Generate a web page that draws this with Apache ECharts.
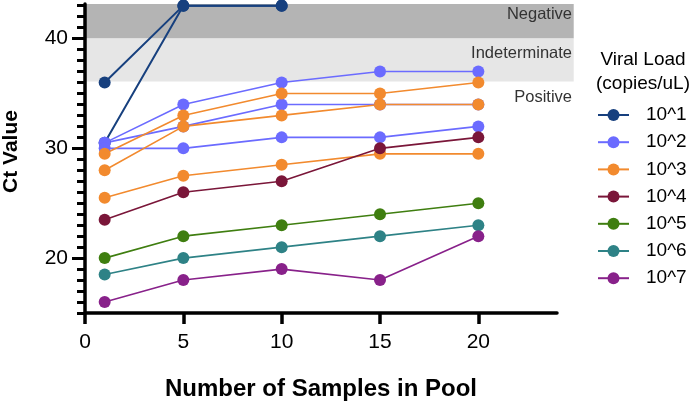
<!DOCTYPE html>
<html>
<head>
<meta charset="utf-8">
<script src="https://cdn.jsdelivr.net/npm/echarts@6/dist/echarts.min.js"></script>
<style>
html,body{margin:0;padding:0;background:#fff;}
#chart{width:690px;height:406px;}
</style>
</head>
<body>
<div id="chart"></div>
<script>
// ---- data ----
const poolSizes = [1, 5, 10, 15, 20];
const load1_a = [36, 43, 43];
const load1_b = [30.5, 43, 43];
const load2_a = [30.5, 34, 36, 37, 37];
const load2_b = [30.5, 32, 34, 34, 34];
const load2_c = [30, 30, 31, 31, 32];
const load3_a = [29.5, 33, 35, 35, 36];
const load3_b = [28, 32, 33, 34, 34];
const load3_c = [25.5, 27.5, 28.5, 29.5, 29.5];
const load4 = [23.5, 26, 27, 30, 31];
const load5 = [20, 22, 23, 24, 25];
const load6 = [18.5, 20, 21, 22, 23];
const load7 = [16, 18, 19, 18, 22];

const groupNames = ['10^1', '10^2', '10^3', '10^4', '10^5', '10^6', '10^7'];
const xTicks = [0, 5, 10, 15, 20];
const yMajorTicks = [20, 30, 40];
const yMinorTicks = [15,16,17,18,19,20,21,22,23,24,25,26,27,28,29,30,31,32,33,34,35,36,37,38,39,40,41,42,43];
const bandNegative = [40, 43.15];
const bandIndeterminate = [36.1, 40];
const bandLabels = ['Negative', 'Indeterminate', 'Positive'];

const colors = ['#17407e', '#6b6bff', '#f28a2e', '#7a1639', '#3f7e10', '#2e8286', '#88218a'];
const FONT = "'Liberation Sans', Arial, Helvetica, sans-serif";

const groups = [
  [load1_a, load1_b],
  [load2_a, load2_b, load2_c],
  [load3_a, load3_b, load3_c],
  [load4],
  [load5],
  [load6],
  [load7]
];

const series = [];
groups.forEach((lines, gi) => {
  lines.forEach(vals => {
    series.push({
      type: 'line',
      name: groupNames[gi],
      data: vals.map((v, i) => [poolSizes[i], v]),
      symbol: 'circle',
      symbolSize: 12,
      color: colors[gi],
      itemStyle: {color: colors[gi]},
      lineStyle: {color: colors[gi], width: gi === 0 ? 2 : 1.6},
      emphasis: {disabled: true},
      animation: false,
      z: 3
    });
  });
});

const chart = echarts.init(document.getElementById('chart'), null, {renderer: 'canvas'});
const YMIN = 15, YMAX = 43.15;
chart.setOption({
  animation: false,
  textStyle: {fontFamily: FONT},
  grid: {left: 85, right: 133, top: 4, bottom: 85.8, containLabel: false},
  xAxis: {
    type: 'value', min: 0, max: 24,
    axisLine: {show: true, lineStyle: {color: '#000', width: 3.5}},
    axisTick: {show: true, customValues: xTicks, length: 11, lineStyle: {color: '#000', width: 3.5}},
    axisLabel: {customValues: xTicks, fontSize: 21, color: '#000', margin: 19, fontFamily: FONT},
    splitLine: {show: false},
    name: 'Number of Samples in Pool',
    nameLocation: 'middle',
    nameGap: 64,
    nameTextStyle: {fontSize: 24, fontWeight: 'bold', color: '#000', fontFamily: FONT}
  },
  yAxis: [
    {
      type: 'value', min: YMIN, max: YMAX, position: 'left', offset: 0,
      axisLine: {show: true, lineStyle: {color: '#000', width: 3.5}},
      axisTick: {show: true, customValues: yMinorTicks, length: 8, lineStyle: {color: '#000', width: 3}},
      axisLabel: {show: false},
      splitLine: {show: false}
    },
    {
      type: 'value', min: YMIN, max: YMAX, position: 'left', offset: 0,
      axisLine: {show: false},
      axisTick: {show: true, customValues: yMajorTicks, length: 13, lineStyle: {color: '#000', width: 3}},
      axisLabel: {customValues: yMajorTicks, fontSize: 21, color: '#000', margin: 17, fontFamily: FONT},
      splitLine: {show: false}
    }
  ],
  legend: {
    orient: 'vertical',
    left: 597,
    top: 105.5,
    padding: 0,
    itemWidth: 31,
    itemHeight: 15,
    itemGap: 8.2,
    data: groupNames,
    textStyle: {fontSize: 19, lineHeight: 19, color: '#000', fontFamily: FONT, padding: [0, 0, 0, 12]},
    selectedMode: false
  },
  series: series
});

const p = (x, y) => chart.convertToPixel({xAxisIndex: 0, yAxisIndex: 0}, [x, y]);
const bandRight = 24.85;
function bandRect(b, color) {
  const a = p(0, b[1]);
  const c = p(bandRight, b[0]);
  return {type: 'rect', z: -10, silent: true,
    shape: {x: a[0], y: a[1], width: c[0] - a[0], height: c[1] - a[1]},
    style: {fill: color}};
}
chart.setOption({
  graphic: [
    bandRect(bandNegative, '#b4b4b4'),
    bandRect(bandIndeterminate, '#e6e6e6'),
    {type: 'text', z: 5, x: 572, y: 14, style: {text: bandLabels[0], font: '16.5px ' + FONT, fill: '#333', align: 'right', verticalAlign: 'middle'}},
    {type: 'text', z: 5, x: 572, y: 53.5, style: {text: bandLabels[1], font: '16.5px ' + FONT, fill: '#333', align: 'right', verticalAlign: 'middle'}},
    {type: 'text', z: 5, x: 572, y: 97, style: {text: bandLabels[2], font: '16.5px ' + FONT, fill: '#333', align: 'right', verticalAlign: 'middle'}},
    {type: 'text', z: 5, x: 643, y: 60, style: {text: 'Viral Load', font: '19px ' + FONT, fill: '#000', align: 'center', verticalAlign: 'middle'}},
    {type: 'text', z: 5, x: 643, y: 84, style: {text: '(copies/uL)', font: '19px ' + FONT, fill: '#000', align: 'center', verticalAlign: 'middle'}},
    {type: 'text', z: 5, x: 11, y: 151.5, rotation: Math.PI / 2, style: {text: 'Ct Value', font: 'bold 21px ' + FONT, fill: '#000', align: 'center', verticalAlign: 'middle'}}
  ]
});
</script>
</body>
</html>
